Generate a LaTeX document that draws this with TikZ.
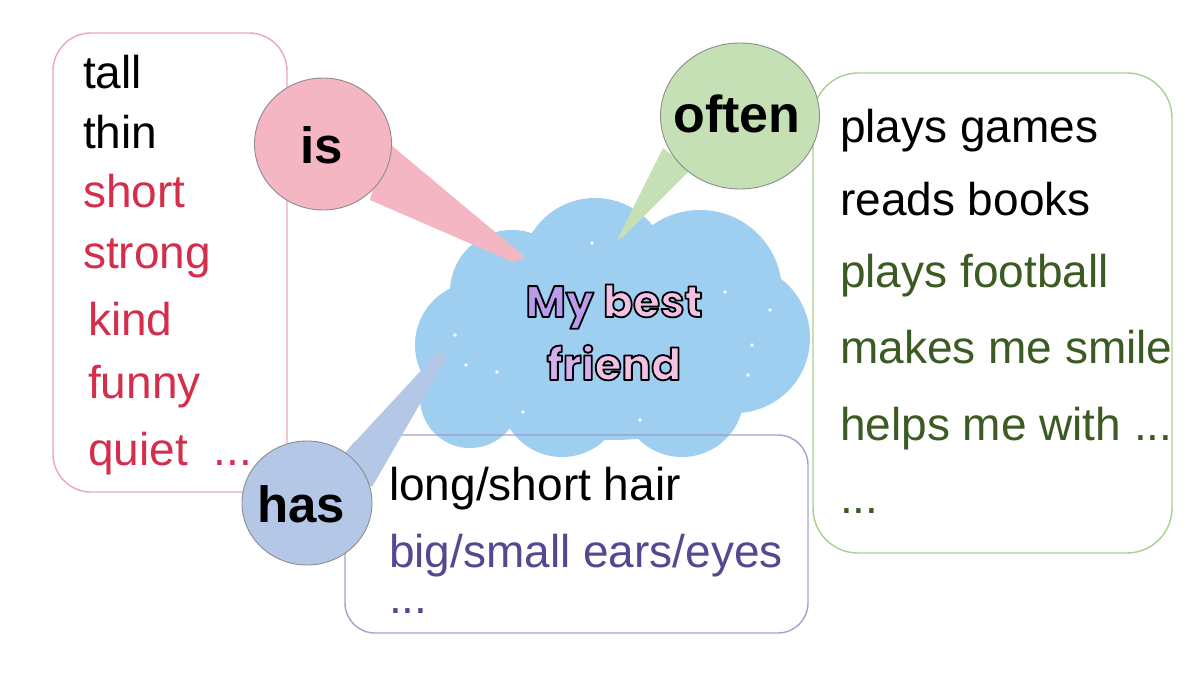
\documentclass[tikz,border=0pt]{standalone}
\usepackage{fontspec}
\setmainfont{Liberation Sans}
\newfontfamily\cloudfont{Poppins}
\usetikzlibrary{shapes.geometric}
\definecolor{cloudblue}{HTML}{9ECFF0}
\definecolor{ispink}{HTML}{F4B6C2}
\definecolor{oftengreen}{HTML}{C5E0B4}
\definecolor{hasblue}{HTML}{B4C7E7}
\definecolor{pinkline}{HTML}{E9A9B6}
\definecolor{greenline}{HTML}{A9D18E}
\definecolor{purpleline}{HTML}{9C98C4}
\definecolor{redtext}{HTML}{D42E4C}
\definecolor{greentext}{HTML}{3B5B22}
\definecolor{purpletext}{HTML}{524A91}
\definecolor{lav}{HTML}{B89CEB}
\definecolor{pk}{HTML}{F2C2E4}
\definecolor{midlav}{HTML}{D4B0EC}
\newcommand\outlinedword[2]{\textcolor{#1}{\special{pdf:literal direct 2 Tr 1.8 w 1 j 0 0 0 RG}#2\special{pdf:literal direct 0 Tr}}}
\begin{document}
\begin{tikzpicture}[x=1pt,y=-1pt,
  lbl/.style={anchor=base west, inner sep=0pt, font=\fontsize{46}{50}\selectfont},
  bubble/.style={ellipse, draw=gray!90, line width=0.9pt, inner sep=0pt},
  bubbletext/.style={anchor=base, inner sep=0pt, font=\bfseries\fontsize{51}{55}\selectfont},
  titletext/.style={anchor=base, inner sep=0pt, font=\cloudfont\bfseries\fontsize{44}{50}\selectfont},
  listbox/.style={rounded corners=#1, line width=1.4pt}
]
\useasboundingbox (0,0) rectangle (1200,675);
\fill[white] (0,0) rectangle (1200,675);

% cloud
\begin{scope}[fill=cloudblue]
\fill (595,272) circle (74);
\fill (700,292) circle (82);
\fill (735,338) circle (75);
\fill (682,395) circle (62);
\fill (562,395) circle (62);
\fill (478,345) circle (63);
\fill (512,292) circle (62);
\fill (470,398) circle (50);
\fill (612,345) ellipse (165 and 95);
\end{scope}
\coordinate (cloud) at (613,330);
\begin{scope}[fill=white]
\foreach \p in {(592,243),(497,372),(725,292),(752,345),(748,375),(523,412),(466,365),(702,458),(640,420),(560,290),(770,310),(455,335)}
  \fill \p circle (1.8);
\end{scope}

% boxes
\draw[pinkline, listbox=38] (53,33) rectangle (287,492);
\draw[greenline, listbox=45] (813,73) rectangle (1172,553);
\draw[purpleline, listbox=30, opacity=0.9] (345,435) rectangle (808,633);

% wedge tips
\coordinate (istipA) at (525,257);
\coordinate (istipB) at (513,262);
\coordinate (oftentipA) at (617,240);
\coordinate (oftentipB) at (623,237);
\coordinate (hastipA) at (440,350);
\coordinate (hastipB) at (447,357);

% wedges
\fill[ispink] (385,140) -- (istipA) -- (istipB) -- (370,200) -- cycle;
\fill[oftengreen] (663,148) -- (oftentipA) -- (oftentipB) -- (690,170) -- cycle;
\fill[hasblue] (340,458) -- (hastipA) -- (hastipB) -- (372,487) -- cycle;

% bubbles
\node[bubble, fill=ispink, minimum width=137pt, minimum height=132pt] (is) at (323,144) {};
\node[bubble, fill=oftengreen, minimum width=159pt, minimum height=146pt] (often) at (740,116) {};
\node[bubble, fill=hasblue, minimum width=130pt, minimum height=124pt] (has) at (307,503) {};
\node[bubbletext] (istext) at (322,163) {is};
\node[bubbletext, font=\bfseries\fontsize{52}{55}\selectfont] (oftentext) at (737,132) {often};
\node[bubbletext] (hastext) at (301,522) {has};

% cloud title
\node[titletext] (title1) at (614,317)
  {\outlinedword{lav}{My} \outlinedword{pk}{best}};
\node[titletext] (title2) at (614,380)
  {\outlinedword{midlav}{fri}\outlinedword{pk}{end}};

% left list
\node[lbl] (l1) at (83,88) {tall};
\node[lbl] (l2) at (83,148) {thin};
\node[lbl, text=redtext] (l3) at (83,207) {short};
\node[lbl, text=redtext] (l4) at (83,268) {strong};
\node[lbl, text=redtext] (l5) at (88,335) {kind};
\node[lbl, text=redtext] (l6) at (88,398) {funny};
\node[lbl, text=redtext] (l7) at (88,465) {quiet~~...};

% right list
\node[lbl] (r1) at (840,142) {plays games};
\node[lbl] (r2) at (840,215) {reads books};
\node[lbl, text=greentext] (r3) at (840,287) {plays football};
\node[lbl, text=greentext] (r4) at (840,363) {makes me smile};
\node[lbl, text=greentext] (r5) at (840,440) {helps me with ...};
\node[lbl, text=greentext] (r6) at (840,513) {...};

% bottom list
\node[lbl] (b1) at (389,500) {long/short hair};
\node[lbl, text=purpletext] (b2) at (389,567) {big/small ears/eyes};
\node[lbl, text=purpletext] (b3) at (389,613) {...};
\end{tikzpicture}
\end{document}
